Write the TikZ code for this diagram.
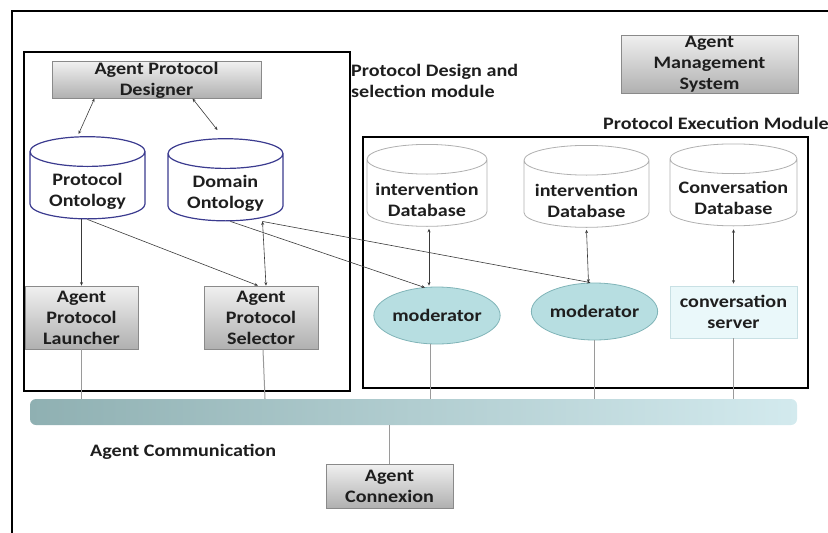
\documentclass[tikz,border=0pt]{standalone}
\usepackage{fontspec}
\setmainfont{Carlito}[FakeStretch=1.15]
\usetikzlibrary{shapes.geometric,arrows.meta,shadows,calc}

\definecolor{txt}{HTML}{1E1E1E}
\definecolor{boxedge}{HTML}{8A8A8A}
\definecolor{boxtop}{HTML}{F0F0F0}
\definecolor{boxbot}{HTML}{B0B0B0}
\definecolor{ontoblue}{HTML}{3B3B8F}
\definecolor{dbgray}{HTML}{B0B0B0}
\definecolor{modfill}{HTML}{B7DEE1}
\definecolor{modedge}{HTML}{80B4B8}
\definecolor{srvfill}{HTML}{EAF8FA}
\definecolor{srvedge}{HTML}{C8E0E4}
\definecolor{busleft}{HTML}{8FB0B2}
\definecolor{busright}{HTML}{D3EAEE}
\definecolor{lnk}{HTML}{3A3A3A}
\definecolor{buslnk}{HTML}{9A9A9A}

\begin{document}
\begin{tikzpicture}[x=1pt,y=-1pt,
 every node/.style={font=\fontsize{17.5}{21}\selectfont\bfseries, text=txt, align=center, inner sep=0pt},
 graybox/.style={draw=boxedge, line width=0.8pt, top color=boxtop, bottom color=boxbot, drop shadow={opacity=0.25, shadow xshift=1.2pt, shadow yshift=-1.2pt}},
 cyl/.style={cylinder, shape border rotate=90, aspect=0.33, fill=white, text width=90pt, text height=12pt, text depth=25pt},
 onto/.style={cyl, draw=ontoblue, line width=1.2pt},
 dbase/.style={cyl, draw=dbgray, line width=0.8pt},
 moder/.style={ellipse, draw=modedge, line width=0.8pt, fill=modfill},
 srv/.style={draw=srvedge, line width=0.8pt, fill=srvfill},
 modframe/.style={draw=black, line width=1.6pt},
 link/.style={draw=lnk, line width=0.6pt},
 twoway/.style={link, {Stealth[length=3.5pt,width=3pt]}-{Stealth[length=3.5pt,width=3pt]}},
 oneway/.style={link, -{Stealth[length=3.5pt,width=3pt]}},
 buslink/.style={draw=buslnk, line width=1pt},
 caption/.style={anchor=west, align=left},
 busbar/.style={left color=busleft, right color=busright, rounded corners=6pt}
]
\useasboundingbox (0,0) rectangle (828,533);

% outer frame and module frames
\draw[modframe, line width=1.8pt] (12,533) -- (12,11) -- (828,11);
\draw[modframe] (24,52) rectangle (350,391);
\draw[modframe] (363,137) rectangle (808,388);

% bus
\node[busbar, minimum width=767pt, minimum height=26pt] (bus) at (413.5,412) {};

% nodes
\node[graybox, minimum width=209pt, minimum height=36pt] (designer) at (156.5,80) {Agent Protocol\\Designer};
\node[onto, minimum width=115pt, minimum height=75pt] (po) at (87.5,185.5) {};
\node (pot) at (87.5,191) {Protocol\\Ontology};
\node[onto, minimum width=115pt, minimum height=79pt] (do) at (225.5,187.5) {};
\node (dot) at (225.5,193) {Domain\\Ontology};
\node[graybox, minimum width=113pt, minimum height=63pt] (launcher) at (81.5,317.5) {Agent\\Protocol\\Launcher};
\node[graybox, minimum width=114pt, minimum height=63pt] (selector) at (261,317.5) {Agent\\Protocol\\Selector};

\node[dbase, minimum width=120pt, minimum height=60pt] (db1) at (427,193) {};
\node (db1t) at (427,200) {intervention\\Database};
\node[dbase, minimum width=125pt, minimum height=62pt] (db2) at (586.5,194) {};
\node (db2t) at (586.5,201) {intervention\\Database};
\node[dbase, minimum width=127pt, minimum height=59pt] (db3) at (733.5,192.5) {};
\node (db3t) at (733.5,198) {Conversation\\Database};
\node[moder, minimum width=96pt, minimum height=57pt] (mod1) at (437,315.5) {moderator};
\node[moder, minimum width=97pt, minimum height=57pt] (mod2) at (594.5,311.5) {moderator};
\node[srv, minimum width=127pt, minimum height=52pt] (conv) at (733.5,312) {conversation\\server};

\node[graybox, minimum width=177pt, minimum height=58pt] (ams) at (709.5,64) {Agent\\Management\\System};
\node[graybox, minimum width=127pt, minimum height=44pt] (connexion) at (389.5,486) {Agent\\Connexion};

% captions
\node[caption, anchor=north west] (cap1) at (351,64) {Protocol Design and\\selection module};
\node[caption] (cap2) at (603,123) {Protocol Execution Module};
\node[caption] (cap3) at (90,452) {Agent Communication};

% connectors
\draw[twoway] ($(designer.south)+(-62,0)$) -- ($(po.north)+(-9,-2)$);
\draw[twoway] ($(designer.south)+(36,0)$) -- ($(do.north)+(-8,-8)$);
\draw[oneway] (launcher.north |- po.south) -- (launcher.north);
\draw[oneway] (po.south) -- ($(selector.north)+(-3,0)$);
\draw[twoway] ($(do.south)+(37,0)$) -- ($(selector.north)+(5,0)$);
\draw[oneway] ($(do.south)+(5,0)$) -- ($(mod1.north)+(-12,1)$);
\draw[oneway] ($(do.south)+(37,0)$) -- ($(mod2.north)+(-4,0)$);
\draw[twoway] ($(db1.south)+(2,2)$) -- ($(mod1.north)+(-8,-1)$);
\draw[twoway] ($(db2.south)+(0,2)$) -- ($(mod2.north)+(-6,0)$);
\draw[twoway] ($(db3.south)+(0,3)$) -- ($(conv.north)+(0,-2)$);

% bus links
\draw[buslink] (launcher.south) -- (launcher.south |- bus.north);
\draw[buslink] ($(selector.south)+(2,0)$) -- ($(selector.south |- bus.north)+(4,0)$);
\draw[buslink] ($(mod1.south)+(-7,0)$) -- ($(mod1.south |- bus.north)+(-7,0)$);
\draw[buslink] (mod2.south) -- (mod2.south |- bus.north);
\draw[buslink] (conv.south) -- (conv.south |- bus.north);
\draw[buslink] (bus.south -| connexion.north) -- (connexion.north);
\end{tikzpicture}
\end{document}
